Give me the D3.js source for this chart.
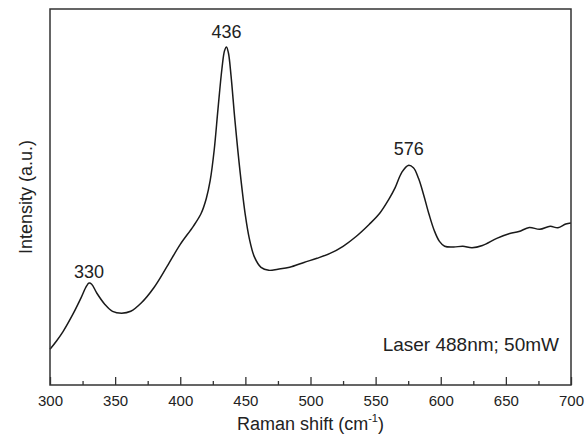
<!DOCTYPE html>
<html>
<head>
<meta charset="utf-8">
<script src="https://cdn.jsdelivr.net/npm/d3@7"></script>
<style>
  body { margin: 0; background: #fff; }
  text { font-family: "Liberation Sans", Arial, sans-serif; fill: #222; }
</style>
</head>
<body>
<svg id="chart"></svg>
<script>
// Raman shift (cm-1) and intensity (a.u.)
var shift = [300, 305, 310, 318, 324, 328, 330, 332, 336, 342, 348, 355, 362, 370, 380, 390, 400, 410, 416, 420,
  423, 426, 429, 432, 434, 435.5, 437, 439, 442, 446, 450, 453, 457, 462, 468, 475, 484, 495,
  505, 515, 525, 535, 545, 553, 560, 565, 570, 575, 579, 583, 587, 591, 595, 599, 603, 610, 617, 624,
  632, 643, 653, 660, 668, 676, 684, 690, 696, 700];
var intensity = [9.5, 11.7, 14.2, 19.1, 23.3, 26.3, 27.1, 26.8, 24.4, 21.5, 19.6, 19.1, 19.6, 21.8, 26.0, 31.6, 37.4, 42.2, 45.6, 49.6,
  54.4, 62.3, 73.5, 84.1, 88.9, 89.9, 88.3, 82.2, 70.3, 56.5, 45.1, 39.0, 34.0, 31.3, 30.5, 30.8, 31.3, 32.6,
  33.7, 35.0, 36.9, 39.5, 42.7, 45.6, 49.3, 52.5, 56.5, 58.4, 57.8, 54.9, 50.4, 45.4, 41.1, 38.2, 36.9, 36.7, 36.9, 36.5,
  37.1, 39.0, 40.3, 40.8, 41.9, 41.4, 42.2, 41.8, 42.8, 43.1];

var peakLabels = ["330", "436", "576"];
var peakShift = [330, 435.5, 575.5];
var peakHeight = [27.1, 89.9, 58.4];

var xTicks = [300, 350, 400, 450, 500, 550, 600, 650, 700];
var xMinorTicks = [325, 375, 425, 475, 525, 575, 625, 675];

var note = "Laser 488nm; 50mW";

var width = 585, height = 434;
var margin = {top: 9, right: 14, bottom: 49, left: 50};
var w = width - margin.left - margin.right;
var h = height - margin.top - margin.bottom;

var svg = d3.select('#chart').attr('width', width).attr('height', height);
var g = svg.append('g').attr('transform', 'translate(' + margin.left + ',' + margin.top + ')');

var xScale = d3.scaleLinear().domain([300, 700]).range([0, w]);
var yScale = d3.scaleLinear().domain([0, 100]).range([h, 0]);

var data = shift.map(function(s, i) { return {x: s, y: intensity[i]}; });

// minor ticks (inward)
g.append('g')
    .attr('transform', 'translate(0,' + h + ')')
    .call(d3.axisTop(xScale).tickValues(xMinorTicks).tickSize(4).tickFormat(''))
    .call(function(a) { a.select('.domain').remove(); })
    .selectAll('line').attr('stroke', '#333').attr('stroke-width', 1.3);

// major ticks (inward)
g.append('g')
    .attr('transform', 'translate(0,' + h + ')')
    .call(d3.axisTop(xScale).tickValues(xTicks).tickSize(8).tickFormat(''))
    .call(function(a) { a.select('.domain').remove(); })
    .selectAll('line').attr('stroke', '#333').attr('stroke-width', 1.3);

// tick labels
g.append('g')
    .attr('transform', 'translate(0,' + h + ')')
    .call(d3.axisBottom(xScale).tickValues(xTicks).tickSize(0).tickPadding(10).tickFormat(d3.format('d')))
    .call(function(a) { a.select('.domain').remove(); })
    .selectAll('text')
    .style('font-size', '15px')
    .style('font-family', '"Liberation Sans", Arial, sans-serif')
    .attr('fill', '#222');

// spectrum
var line = d3.line()
    .x(function(d) { return xScale(d.x); })
    .y(function(d) { return yScale(d.y); })
    .curve(d3.curveCatmullRom.alpha(0.5));

g.append('path')
    .datum(data)
    .attr('d', line)
    .attr('fill', 'none')
    .attr('stroke', '#1a1a1a')
    .attr('stroke-width', 1.5);

// frame
g.append('rect')
    .attr('width', w)
    .attr('height', h)
    .attr('fill', 'none')
    .attr('stroke', '#333')
    .attr('stroke-width', 1.5);

// peak labels
var labelGap = [5, 9, 10];
g.selectAll('.peak')
    .data(peakLabels)
    .enter()
    .append('text')
    .attr('class', 'peak')
    .attr('x', function(d, i) { return xScale(peakShift[i]); })
    .attr('y', function(d, i) { return yScale(peakHeight[i]) - labelGap[i]; })
    .attr('text-anchor', 'middle')
    .style('font-size', '18px')
    .text(function(d) { return d; });

g.append('text')
    .attr('x', w - 12)
    .attr('y', h - 34)
    .attr('text-anchor', 'end')
    .style('font-size', '19px')
    .text(note);

// axis titles
var xt = svg.append('text')
    .attr('x', margin.left + w / 2)
    .attr('y', 430)
    .attr('text-anchor', 'middle')
    .style('font-size', '18px');
xt.append('tspan').text('Raman shift (cm');
xt.append('tspan').attr('dy', -8).style('font-size', '11px').text('-1');
xt.append('tspan').attr('dy', 8).text(')');

svg.append('text')
    .attr('transform', 'translate(32,' + (margin.top + h / 2) + ')rotate(-90)')
    .attr('text-anchor', 'middle')
    .style('font-size', '18px')
    .text('Intensity (a.u.)');
</script>
</body>
</html>
